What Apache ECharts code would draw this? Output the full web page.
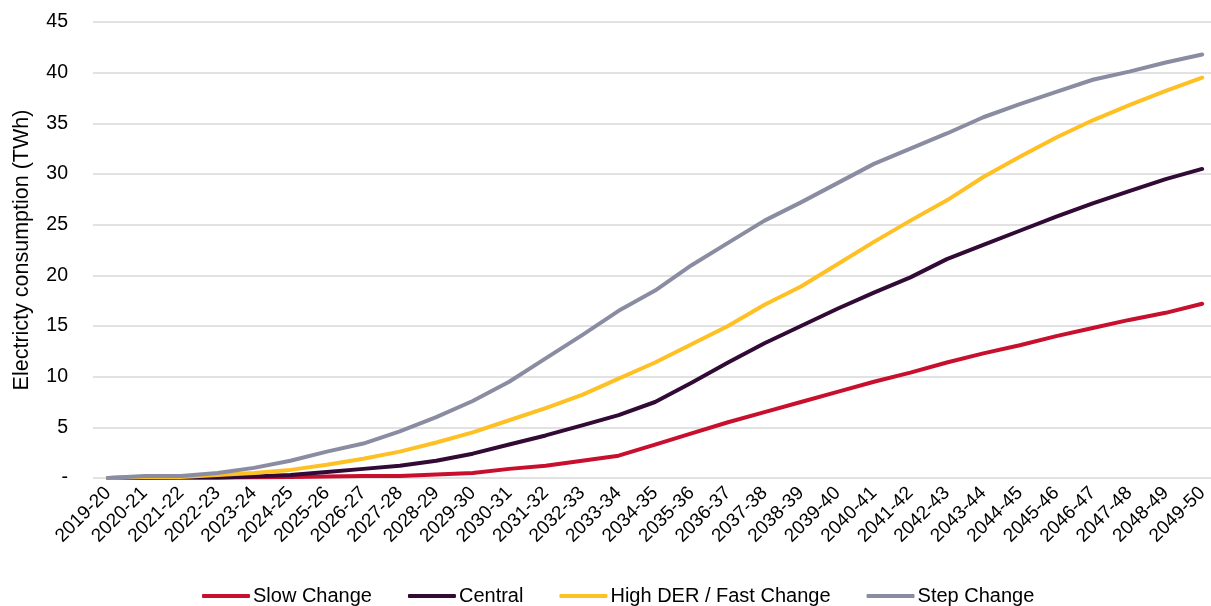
<!DOCTYPE html>
<html>
<head>
<meta charset="utf-8">
<script src="https://cdn.jsdelivr.net/npm/echarts@6/dist/echarts.min.js"></script>
<style>html,body{margin:0;padding:0;background:#fff}#c{width:1211px;height:606px}</style>
</head>
<body>
<div id="c"></div>
<script>
const categories = ['2019-20','2020-21','2021-22','2022-23','2023-24','2024-25','2025-26','2026-27','2027-28','2028-29','2029-30','2030-31','2031-32','2032-33','2033-34','2034-35','2035-36','2036-37','2037-38','2038-39','2039-40','2040-41','2041-42','2042-43','2043-44','2044-45','2045-46','2046-47','2047-48','2048-49','2049-50'];
const slowChange = [0,0.03,0.05,0.05,0.07,0.1,0.15,0.2,0.2,0.35,0.5,0.9,1.2,1.7,2.2,3.3,4.4,5.5,6.5,7.5,8.5,9.5,10.4,11.4,12.3,13.1,14.0,14.8,15.6,16.3,17.2];
const central = [0,0.05,0.05,0.05,0.15,0.3,0.6,0.9,1.2,1.7,2.4,3.3,4.2,5.2,6.2,7.5,9.4,11.4,13.3,15.0,16.7,18.3,19.8,21.6,23.0,24.4,25.8,27.1,28.3,29.5,30.5];
const highDER = [0,0.1,0.1,0.3,0.5,0.8,1.3,1.9,2.6,3.5,4.5,5.7,6.9,8.2,9.8,11.4,13.2,15.0,17.1,18.9,21.1,23.3,25.4,27.4,29.7,31.7,33.6,35.3,36.8,38.2,39.5];
const stepChange = [0,0.2,0.2,0.5,1.0,1.7,2.6,3.4,4.6,6.0,7.6,9.5,11.8,14.1,16.5,18.5,21.0,23.2,25.4,27.2,29.1,31.0,32.5,34.0,35.6,36.9,38.1,39.3,40.1,41.0,41.8];
const yTicks = {0:'-',5:'5',10:'10',15:'15',20:'20',25:'25',30:'30',35:'35',40:'40',45:'45'};

const font = 'Liberation Sans, Arial, sans-serif';
const chart = echarts.init(document.getElementById('c'));
const mk = (name, data, color) => ({
  name, type:'line', data, symbol:'none', smooth:false, xAxisIndex:0, yAxisIndex:0,
  lineStyle:{color, width:4, cap:'round', join:'round'}, itemStyle:{color}
});
chart.setOption({
  animation:false,
  textStyle:{fontFamily:font},
  grid:[
    {left:108, right:4, top:22, bottom:128, containLabel:false},
    {left:93, right:0, top:22, bottom:128, containLabel:false}
  ],
  legend:{
    top:581, left:197, itemWidth:48, itemHeight:4, itemGap:36,
    icon:'roundRect',
    textStyle:{fontFamily:font, fontSize:20, color:'#000', padding:[0,0,0,-2]},
    data:['Slow Change','Central','High DER / Fast Change','Step Change']
  },
  xAxis:[{
    type:'category', data:categories, boundaryGap:false, gridIndex:0,
    axisLine:{show:false}, axisTick:{show:false}, splitLine:{show:false},
    axisLabel:{rotate:45, fontSize:19, color:'#000', fontFamily:font, interval:0, margin:12}
  },{
    type:'value', gridIndex:1, show:false, min:0, max:1
  }],
  yAxis:[{
    type:'value', min:0, max:45, interval:5, gridIndex:0, show:false, splitLine:{show:false}
  },{
    type:'value', min:0, max:45, interval:5, gridIndex:1, z:0,
    name:'Electricty consumption (TWh)', nameLocation:'middle', nameGap:60, nameRotate:90,
    nameTextStyle:{fontSize:21.5, color:'#000', fontFamily:font},
    axisLine:{show:false}, axisTick:{show:false},
    splitLine:{lineStyle:{color:'#d9d9d9', width:1.5}},
    axisLabel:{fontSize:19.5, color:'#000', fontFamily:font, margin:25, formatter:v=>yTicks[v]}
  }],
  series:[
    mk('Slow Change', slowChange, '#c8102e'),
    mk('Central', central, '#320a36'),
    mk('High DER / Fast Change', highDER, '#ffc024'),
    mk('Step Change', stepChange, '#8a8ca2')
  ]
});
</script>
</body>
</html>
